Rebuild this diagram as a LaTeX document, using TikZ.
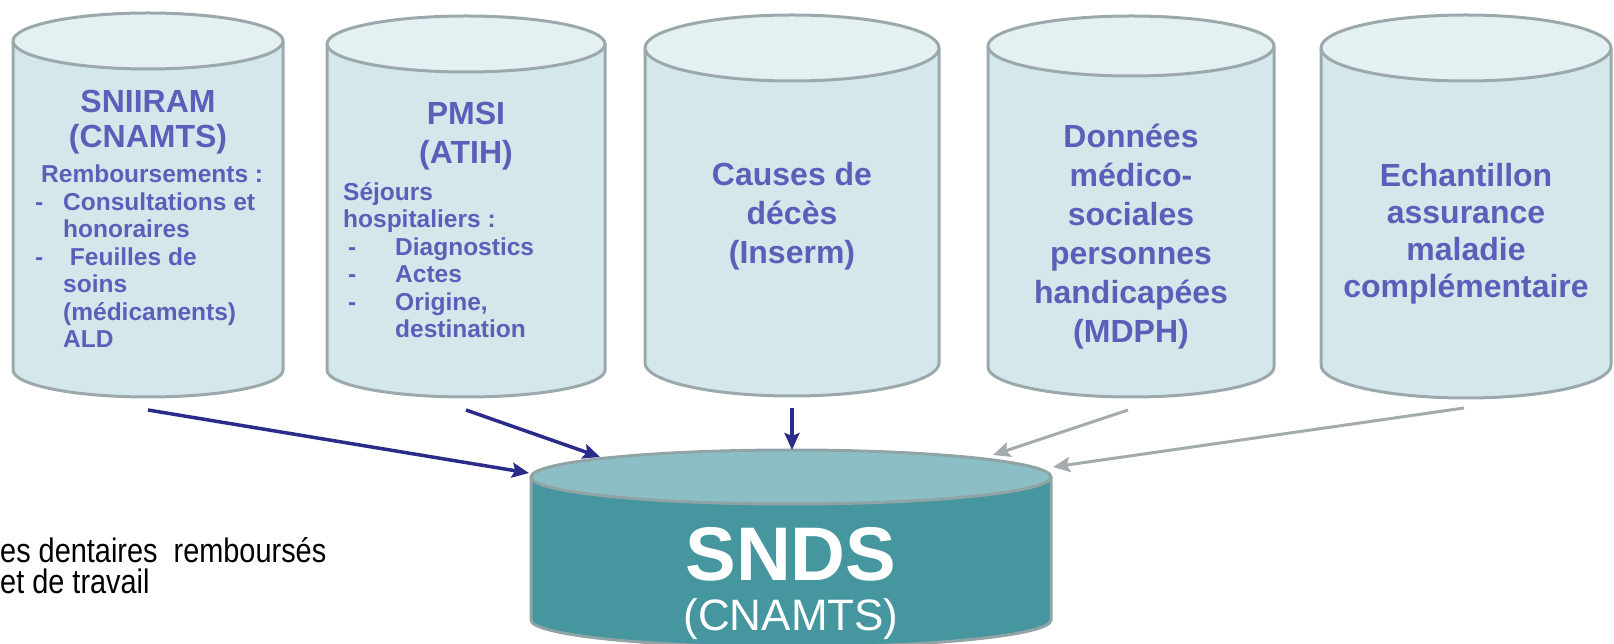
\documentclass[tikz,border=0pt]{standalone}
\usepackage{fontspec}
\setmainfont{Liberation Sans}
\newfontfamily\narrowfont[FakeStretch=0.85]{Liberation Sans}
\usetikzlibrary{arrows.meta}

\definecolor{cylfill}{HTML}{D4E7EB}
\definecolor{cyltop}{HTML}{E4F0F2}
\definecolor{cylline}{HTML}{9BA9AC}
\definecolor{labelblue}{HTML}{5C5FBA}
\definecolor{sndsfill}{HTML}{46969F}
\definecolor{sndstop}{HTML}{8CBFC5}
\definecolor{sndsline}{HTML}{90A4A6}
\definecolor{navy}{HTML}{2B2B8A}
\definecolor{arrowgray}{HTML}{A3ABAD}

\tikzset{
  cylside/.style={fill=cylfill,draw=cylline,line width=3pt},
  cylcap/.style={fill=cyltop,draw=cylline,line width=3pt},
  sndsside/.style={fill=sndsfill,draw=sndsline,line width=3pt},
  sndscap/.style={fill=sndstop,draw=sndsline,line width=3pt},
  dbtitle/.style={text=labelblue,inner sep=0pt,align=center,font=\fontsize{32}{39}\selectfont\bfseries},
  dblist/.style={text=labelblue,inner sep=0pt,align=left,font=\fontsize{24.5}{27.5}\selectfont\bfseries},
  feed/.style={draw=navy,line width=3.5pt,-{Stealth[length=17pt,width=15pt,inset=3pt]}},
  feedgray/.style={draw=arrowgray,line width=3pt,-{Stealth[length=17pt,width=15pt,inset=3pt]}}
}

\begin{document}
\begin{tikzpicture}[x=1pt,y=1pt]
\useasboundingbox (0,0) rectangle (1614,643);
\clip (0,0) rectangle (1614,643);

\draw[cylside] (13,602) -- (13,273) arc[start angle=180,end angle=360,x radius=135,y radius=27] -- (283,602);
\draw[cylcap] (148,602) ellipse [x radius=135,y radius=28];
\draw[cylside] (327,599) -- (327,273) arc[start angle=180,end angle=360,x radius=139,y radius=27] -- (605,599);
\draw[cylcap] (466,599) ellipse [x radius=139,y radius=28];
\draw[cylside] (645,595) -- (645,280) arc[start angle=180,end angle=360,x radius=147,y radius=33] -- (939,595);
\draw[cylcap] (792,595) ellipse [x radius=147,y radius=33];
\draw[cylside] (988,597) -- (988,276) arc[start angle=180,end angle=360,x radius=143,y radius=30] -- (1274,597);
\draw[cylcap] (1131,597) ellipse [x radius=143,y radius=30];
\draw[cylside] (1321,595) -- (1321,278) arc[start angle=180,end angle=360,x radius=145,y radius=33] -- (1611,595);
\draw[cylcap] (1466,595) ellipse [x radius=145,y radius=33];

\draw[sndsside] (531,166) -- (531,23) arc[start angle=180,end angle=360,x radius=260,y radius=27] -- (1051,166);
\draw[sndscap] (791,166) ellipse [x radius=260,y radius=27];

\node[dbtitle,font=\fontsize{32}{35}\selectfont\bfseries] (sniiram) at (148,521) {SNIIRAM\\(CNAMTS)};
\node[dblist,anchor=north west] (remb) at (35,478) {\hspace*{6pt}Remboursements :\\\makebox[28pt][l]{-}Consultations et\\\hspace*{28pt}honoraires\\\makebox[28pt][l]{-} Feuilles de\\\hspace*{28pt}soins\\\hspace*{28pt}(médicaments)\\\hspace*{28pt}ALD};
\node[dbtitle] (pmsi) at (466,507) {PMSI\\(ATIH)};
\node[dblist,anchor=north west] (sejours) at (343,461) {Séjours\\hospitaliers :\\\makebox[52pt][l]{\hspace*{5pt}-}Diagnostics\\\makebox[52pt][l]{\hspace*{5pt}-}Actes\\\makebox[52pt][l]{\hspace*{5pt}-}Origine,\\\hspace*{52pt}destination};
\node[dbtitle] (deces) at (792,427) {Causes de\\décès\\(Inserm)};
\node[dbtitle] (mdph) at (1131,406) {Données\\médico-\\sociales\\personnes\\handicapées\\(MDPH)};
\node[dbtitle,font=\fontsize{32}{37}\selectfont\bfseries] (echantillon) at (1466,409) {Echantillon\\assurance\\maladie\\complémentaire};

\node[text=white,inner sep=0pt,font=\fontsize{76}{76}\selectfont\bfseries] (snds) at (791,89) {SNDS};
\node[text=white,inner sep=0pt,font=\fontsize{44}{44}\selectfont] (sndsorg) at (791,24) {(CNAMTS)};

\node[inner sep=0pt,anchor=base west,align=left,font=\fontsize{34}{31}\narrowfont] (note) at (0,50) {es dentaires\ \ remboursés\\et de travail};

\coordinate (sniiram-out) at (148,233);
\coordinate (pmsi-out) at (466,233);
\coordinate (deces-out) at (792,235);
\coordinate (mdph-out) at (1128,233);
\coordinate (ech-out) at (1464,235);
\coordinate (snds-in1) at (529,170);
\coordinate (snds-in2) at (600,186);
\coordinate (snds-in3) at (792,193);
\coordinate (snds-in4) at (993,188);
\coordinate (snds-in5) at (1053,176);

\draw[feed] (sniiram-out) -- (snds-in1);
\draw[feed] (pmsi-out) -- (snds-in2);
\draw[feed] (deces-out) -- (snds-in3);
\draw[feedgray] (mdph-out) -- (snds-in4);
\draw[feedgray] (ech-out) -- (snds-in5);
\end{tikzpicture}
\end{document}
